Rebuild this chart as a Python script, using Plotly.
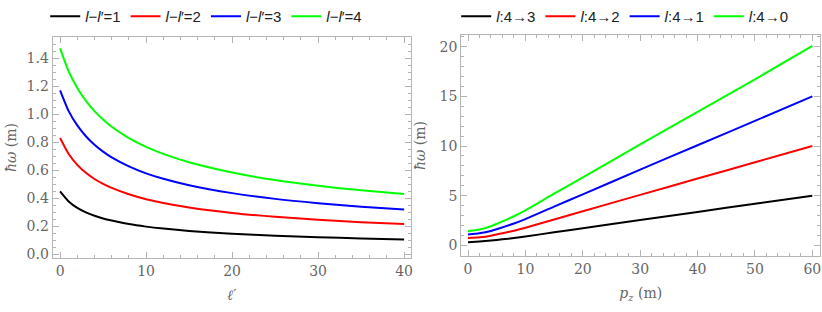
import plotly.graph_objects as go

# Left panel data: hbar*omega vs l'
lp = [0, 1, 2, 3, 4, 5, 6, 8, 10, 12, 15, 20, 25, 30, 35, 40]
left_k1 = [0.45, 0.378, 0.332, 0.300, 0.276, 0.256, 0.241, 0.216, 0.198, 0.184, 0.167, 0.147, 0.133, 0.122, 0.114, 0.107]
left_k2 = [0.83, 0.716, 0.639, 0.582, 0.538, 0.503, 0.474, 0.429, 0.394, 0.367, 0.335, 0.296, 0.268, 0.247, 0.230, 0.216]
left_k3 = [1.17, 1.022, 0.920, 0.843, 0.782, 0.733, 0.692, 0.628, 0.578, 0.539, 0.493, 0.437, 0.396, 0.365, 0.340, 0.320]
left_k4 = [1.47, 1.305, 1.187, 1.095, 1.022, 0.962, 0.911, 0.830, 0.767, 0.717, 0.657, 0.584, 0.530, 0.489, 0.457, 0.430]
left_names = ["<i>l</i>−<i>l</i>′=1", "<i>l</i>−<i>l</i>′=2", "<i>l</i>−<i>l</i>′=3", "<i>l</i>−<i>l</i>′=4"]

# Right panel data: hbar*omega vs p_z
pz = [0, 2, 4, 6, 8, 10, 15, 20, 30, 40, 50, 60]
right_43 = [0.30, 0.38, 0.48, 0.60, 0.73, 0.88, 1.30, 1.71, 2.54, 3.36, 4.18, 5.0]
right_42 = [0.72, 0.80, 0.96, 1.20, 1.46, 1.76, 2.60, 3.42, 5.08, 6.72, 8.36, 10.0]
right_41 = [1.08, 1.20, 1.44, 1.80, 2.19, 2.64, 3.90, 5.13, 7.62, 10.08, 12.54, 15.0]
right_40 = [1.42, 1.58, 1.92, 2.40, 2.92, 3.52, 5.20, 6.84, 10.16, 13.44, 16.72, 20.1]
right_names = ["<i>l</i>:4→3", "<i>l</i>:4→2", "<i>l</i>:4→1", "<i>l</i>:4→0"]

colors = ["#000000", "#ff0000", "#0000ff", "#00ff00"]

fig = go.Figure()
for ys, name, c in zip([left_k1, left_k2, left_k3, left_k4], left_names, colors):
    fig.add_trace(go.Scatter(x=lp, y=ys, mode="lines", name=name, line=dict(color=c, width=2, shape="spline", smoothing=0.6),
                             xaxis="x", yaxis="y", legend="legend"))
for ys, name, c in zip([right_43, right_42, right_41, right_40], right_names, colors):
    fig.add_trace(go.Scatter(x=pz, y=ys, mode="lines", name=name, line=dict(color=c, width=2, shape="spline", smoothing=0.6),
                             xaxis="x2", yaxis="y2", legend="legend2"))

axcol = "#b4b4b4"
serif = "DejaVu Serif"
sans = "Liberation Sans"
tf = dict(family=serif, size=14, color="#666666")

def ax(**kw):
    d = dict(showline=True, linecolor=axcol, linewidth=1, mirror="ticks", ticks="inside",
             tickcolor=axcol, ticklen=6, tickwidth=1, showgrid=False, zeroline=False,
             automargin=False, tickfont=tf, title_font=tf)
    d.update(kw)
    return d

fig.update_layout(
    width=822, height=312,
    font=dict(family=serif, size=14, color="#666666"),
    paper_bgcolor="white", plot_bgcolor="white",
    margin=dict(l=0, r=0, t=0, b=0, autoexpand=False),
    xaxis=ax(domain=[0.064, 0.5], range=[-0.87, 40.8], dtick=10, anchor="y",
             minor=dict(dtick=2, ticks="inside", ticklen=3, tickcolor=axcol),
             title=dict(text="<i>ℓ</i>′", standoff=12)),
    yaxis=ax(domain=[0.173, 0.881], range=[-0.026, 1.55], dtick=0.2, tickformat=".1f", anchor="x",
             minor=dict(dtick=0.05, ticks="inside", ticklen=3, tickcolor=axcol),
             title=dict(text="<i>ħω</i> (m)", standoff=6)),
    xaxis2=ax(domain=[0.561, 0.998], range=[-1.2, 61.4], dtick=10, anchor="y2",
              minor=dict(dtick=2, ticks="inside", ticklen=3, tickcolor=axcol),
              title=dict(text="<i>p<sub>z</sub></i> (m)", standoff=12)),
    yaxis2=ax(domain=[0.179, 0.888], range=[-1.1, 21.2], dtick=5, anchor="x2",
              minor=dict(dtick=1, ticks="inside", ticklen=3, tickcolor=axcol),
              title=dict(text="<i>ħω</i> (m)", standoff=10)),
    legend=dict(orientation="h", x=0.055, y=1.0, xanchor="left", yanchor="top",
                font=dict(family=sans, size=15, color="#222222"),
                itemwidth=30, tracegroupgap=0, bgcolor="rgba(0,0,0,0)"),
    legend2=dict(orientation="h", x=0.555, y=1.0, xanchor="left", yanchor="top",
                 font=dict(family=sans, size=15, color="#222222"),
                 itemwidth=30, tracegroupgap=0, bgcolor="rgba(0,0,0,0)"),
)

fig.write_html("out.html", config={"displayModeBar": False},
               post_script="document.body.style.margin='0';document.body.style.overflow='hidden';")
